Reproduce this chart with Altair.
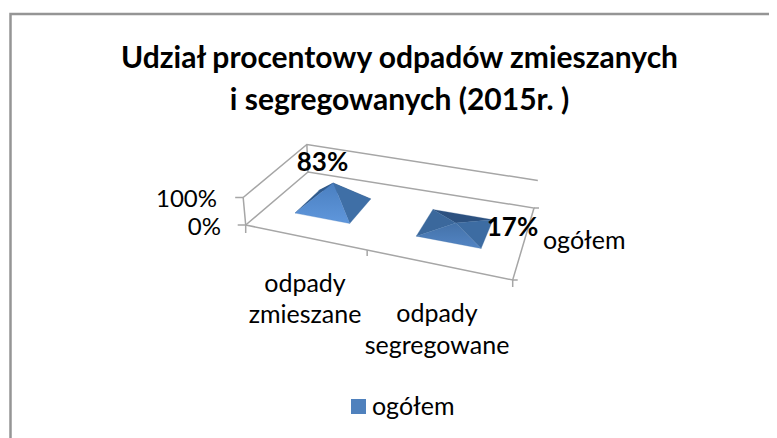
import altair as alt
import numpy as np
import pandas as pd

categories = ["odpady zmieszane", "odpady segregowane"]
series_name = "ogółem"
values = [83, 17]
value_ticks = [0, 100]
TITLE = ["Udział procentowy odpadów zmieszanych", "i segregowanych (2015r. )"]

W, H = 761, 430
FONT = "Lato"

# floor corners of the 3D plot box on screen -> projective map (u along categories, v in depth)
src = [(0, 0), (1, 0), (1, 1), (0, 1)]
dst = [(245.7, 225), (512.7, 280), (534, 208), (308, 172)]
A, b = [], []
for (u, v), (x, y) in zip(src, dst):
    A.append([u, v, 1, 0, 0, 0, -u * x, -v * x]); b.append(x)
    A.append([0, 0, 0, u, v, 1, -u * y, -v * y]); b.append(y)
M = np.append(np.linalg.solve(np.array(A), np.array(b)), 1).reshape(3, 3)


def project(u, v, pct=0):
    p = M @ np.array([u, v, 1.0])
    x, y = p[0] / p[2], p[1] / p[2]
    h = pct / 100
    return x + h * (x - 360) * 0.022, y - 27.5 * h


xs = alt.Scale(domain=[8, 8 + W], range=[0, W], nice=False, zero=False)
ys = alt.Scale(domain=[8, 8 + H], range=[0, H], nice=False, zero=False)
X = alt.X("x:Q", scale=xs, axis=None)
Y = alt.Y("y:Q", scale=ys, axis=None)


def path_df(points):
    return pd.DataFrame(
        [{"x": p[0], "y": p[1], "i": i} for i, p in enumerate(points)]
    )


def stroke_line(points, color="#a6a6a6", width=1.5):
    return (
        alt.Chart(path_df(points))
        .mark_line(color=color, strokeWidth=width, interpolate="linear")
        .encode(x=X, y=Y, order="i:Q")
    )


def face(points, c0, c1=None):
    fill = c0 if c1 is None else alt.Gradient(
        gradient="linear", x1=0, y1=0, x2=0, y2=1,
        stops=[alt.GradientStop(offset=0, color=c0), alt.GradientStop(offset=1, color=c1)],
    )
    return (
        alt.Chart(path_df(list(points) + [points[0]]))
        .mark_line(fill=fill, stroke=c0, strokeWidth=0.3, interpolate="linear")
        .encode(x=X, y=Y, order="i:Q")
    )


layers = []

# box
layers.append(stroke_line([project(0, 0), project(1, 0), project(1, 1), project(0, 1), project(0, 0)]))
layers.append(stroke_line([project(0, 0), project(0, 0, 100), project(0, 1, 100), project(1, 1, 100)]))
layers.append(stroke_line([project(0, 1), project(0, 1, 100)]))

# ticks, offset in screen px
for u, v, pct, dx, dy in [
    (0, 0, 0, -8, 0), (0, 0, 100, -8, 0),
    (0, 0, 0, 0, 8), (0.5, 0, 0, 0, 6), (1, 0, 0, 0, 7),
    (1, 1, 0, 5, 0), (1, 0, 0, 5, 0),
]:
    p = project(u, v, pct)
    layers.append(stroke_line([p, (p[0] + dx, p[1] + dy)]))

# pyramids
half_u, half_v = 0.118, 0.21
centres = [0.25, 0.75]
face_colors = [
    {"back": "#274b78", "left": "#2f5a8c", "right": "#3f6fa6", "front": ("#4a7fc0", "#5f97dc")},
    {"back": "#2c5180", "left": "#3b689c", "right": "#3d6ca2", "front": ("#4472a9", "#5385c4")},
]
for c, val, fc in zip(centres, values, face_colors):
    fl = project(c - half_u, 0.5 - half_v)
    fr = project(c + half_u, 0.5 - half_v)
    br = project(c + half_u, 0.5 + half_v)
    bl = project(c - half_u, 0.5 + half_v)
    ap = project(c, 0.5, val)
    layers.append(face([bl, br, ap], fc["back"]))
    layers.append(face([fl, bl, ap], fc["left"]))
    layers.append(face([fr, br, ap], fc["right"]))
    layers.append(face([fl, fr, ap], *fc["front"]))


def text(x, y, t, size=25, weight="normal", align="center", dx=0, dy=0):
    return (
        alt.Chart(pd.DataFrame({"x": [x], "y": [y], "t": [t]}))
        .mark_text(font=FONT, fontSize=size, fontWeight=weight, align=align,
                   baseline="alphabetic", color="#000000", dx=dx, dy=dy)
        .encode(x=X, y=Y, text="t:N")
    )


# value axis labels
for t, right, base in zip(value_ticks, [221, 217], [235, 207]):
    p = project(0, 0, t)
    layers.append(text(p[0], p[1], f"{t}%", size=24, align="right", dx=right - p[0], dy=base - p[1]))

# category labels
p0 = project(0.25, 0)
p1 = project(0.75, 0)
layers.append(text(*p0, "odpady", dx=305 - p0[0], dy=291.7 - p0[1]))
layers.append(text(*p0, "zmieszane", dx=305 - p0[0], dy=323 - p0[1]))
layers.append(text(*p1, "odpady", dx=437 - p1[0], dy=322 - p1[1]))
layers.append(text(*p1, "segregowane", dx=437 - p1[0], dy=354 - p1[1]))

# depth label
p = project(1, 0.5)
layers.append(text(*p, series_name, align="left", dx=543 - p[0], dy=249 - p[1]))

# data labels
for c, val, cx, by in zip(centres, values, [322.5, 512.5], [171, 236]):
    p = project(c, 0.5, val)
    layers.append(text(*p, f"{val}%", size=26, weight="bold", dx=cx - p[0], dy=by - p[1]))

# legend carrier
legend_df = pd.DataFrame({"x": [50], "y": [50], "s": [series_name]})
layers.append(
    alt.Chart(legend_df).mark_point(opacity=0, filled=True).encode(
        x=X, y=Y,
        color=alt.Color("s:N", scale=alt.Scale(range=["#4f81bd"]), legend=alt.Legend(
            title=None, orient="none", legendX=338, legendY=386, symbolType="square",
            symbolSize=225, symbolOpacity=1, symbolStrokeWidth=0, labelFont=FONT, labelFontSize=25,
            labelColor="#000000", labelOffset=1,
        )),
    )
)

# frame (open at the bottom and right, where the picture cuts it)
layers.insert(0, stroke_line([(10.5, 438), (10.5, 14), (777, 14)], color="#959595", width=2.5))

chart = alt.layer(*layers).properties(
    width=W, height=H, padding=0,
    autosize=alt.AutoSizeParams(type="none"),
    title=alt.TitleParams(text=TITLE, font=FONT, fontSize=30, fontWeight="bold", color="#000000",
                          anchor="start", dy=112, dx=394, align="center", lineHeight=42),
).configure_view(stroke=None)

chart.save("out.html", embed_options={"renderer": "svg", "actions": False})
